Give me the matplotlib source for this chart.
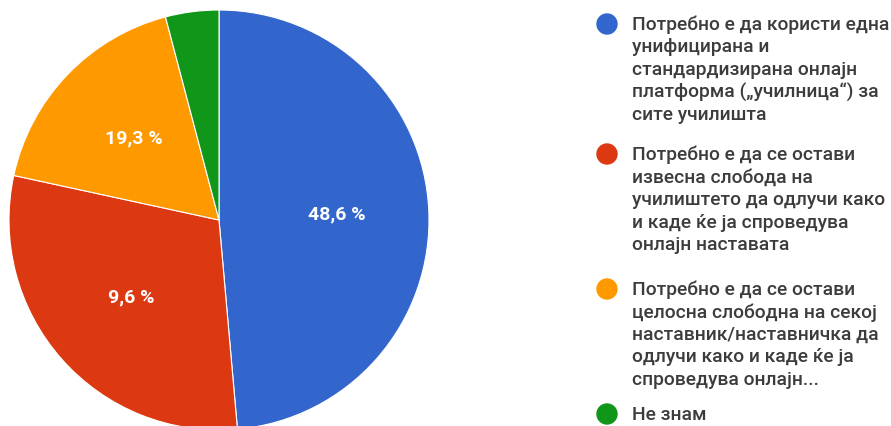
import matplotlib
matplotlib.use('Agg')
import numpy as np
import matplotlib.pyplot as plt
from matplotlib.patches import Ellipse

# shares as drawn in the picture (slice angles), labels as printed on the slices
shares = [48.6, 29.8, 17.5, 4.1]
slice_labels = ['48,6 %', '9,6 %', '19,3 %', '']
colors = ['#3366cc', '#dc3912', '#ff9900', '#109618']
legend_items = [
    ['Потребно е да користи една', 'унифицирана и', 'стандардизирана онлајн',
     'платформа („училница“) за', 'сите училишта'],
    ['Потребно е да се остави', 'извесна слобода на', 'училиштето да одлучи како',
     'и каде ќе ја спроведува', 'онлајн наставата'],
    ['Потребно е да се остави', 'целосна слободна на секој', 'наставник/наставничка да',
     'одлучи како и каде ќе ја', 'спроведува онлајн...'],
    ['Не знам'],
]

W, H = 891, 426
fig = plt.figure(figsize=(W / 100, H / 100), dpi=100)

# pie: center (219, 220) px, radius 210 px
cx, cy, r = 219, 220, 210
ax = fig.add_axes([(cx - r) / W, (H - cy - r) / H, 2 * r / W, 2 * r / H])
wedges, texts = ax.pie(shares, colors=colors, startangle=90, counterclock=False,
                       radius=1, wedgeprops=dict(edgecolor='white', linewidth=0.8))
ax.set_xlim(-1, 1)
ax.set_ylim(-1, 1)
ax.set_aspect('equal')
ax.axis('off')

for w, lab in zip(wedges, slice_labels):
    mid = np.deg2rad((w.theta1 + w.theta2) / 2)
    if lab:
        ax.text(0.56 * np.cos(mid), 0.56 * np.sin(mid), lab, color='white',
                ha='center', va='center', fontsize=14, fontweight='bold',
                family='Roboto')

# legend on the right
item_top = [25, 155, 290, 415]
line_h = 22.5
for color, lines, y0 in zip(colors, legend_items, item_top):
    fig.patches.append(Ellipse((607 / W, 1 - (y0 - 1) / H), 20 / W, 20 / H,
                               transform=fig.transFigure, color=color, figure=fig))
    for i, line in enumerate(lines):
        fig.text(632 / W, 1 - (y0 + i * line_h) / H, line, color='#3c3c3c',
                 ha='left', va='center', fontsize=13.9, fontweight='medium',
                 family='Roboto')

fig.savefig('out.png', dpi=100, facecolor='white')
